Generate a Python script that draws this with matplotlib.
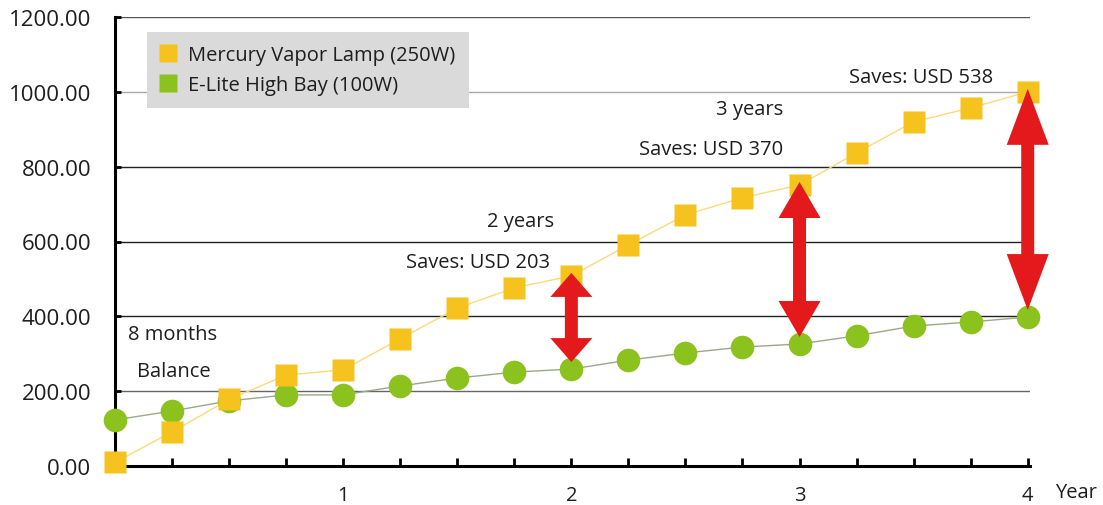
import numpy as np
import matplotlib
matplotlib.use("Agg")
import matplotlib.pyplot as plt
from matplotlib.lines import Line2D
from matplotlib.patches import Polygon
from matplotlib.transforms import blended_transform_factory, IdentityTransform

plt.rcParams["font.family"] = ["Open Sans", "DejaVu Sans"]

# data
years = [0, 0.25, 0.5, 0.75, 1.0, 1.25, 1.5, 1.75, 2.0, 2.25, 2.5, 2.75, 3.0, 3.25, 3.5, 3.75, 4.0]
mercury = [10, 91, 178, 243, 257, 340, 422, 476, 508, 591, 671, 717, 751, 837, 920, 957, 1000]
elite = [123, 147, 174, 190, 190, 214, 235, 251, 259, 283, 302, 318, 326, 348, 374, 385, 398]
series_names = ["Mercury Vapor Lamp (250W)", "E-Lite High Bay (100W)"]
yticks = [0, 200, 400, 600, 800, 1000, 1200]
xlabels = ["1", "2", "3", "4"]
arrow_years = [2.0, 3.0, 4.0]
# text, right edge x, y
notes = [("Saves: USD 203", 1.905, 545), ("2 years", 1.926, 655),
         ("Saves: USD 370", 2.93, 847), ("3 years", 2.93, 954),
         ("Saves: USD 538", 3.85, 1040)]

YELLOW = "#F6C31E"
GREEN = "#8CC21E"
RED = "#E3191B"
TXT = "#1e1e1e"
FS = 14.5

fig = plt.figure(figsize=(11.03, 5.06), dpi=100)
ax = fig.add_axes([115/1103, 1-467/506, 915/1103, 449/506])
ax.set_xlim(0, 4.01)
ax.set_ylim(0, 1200)

grid_cols = {200: "#666666", 400: "#222222", 600: "#222222", 800: "#222222", 1000: "#aaaaaa", 1200: "#555555"}
for v, c in grid_cols.items():
    ax.axhline(v, color=c, lw=1.0, zorder=1)

ax.plot(years, mercury, color="#F8DB7A", lw=1.0, zorder=3)
ax.plot(years, elite, color="#9aa88a", lw=1.0, zorder=3)
ax.plot(years, mercury, ls="none", marker="s", ms=16, color=YELLOW, mec="none", zorder=5, clip_on=False)
ax.plot(years, elite, ls="none", marker="o", ms=17, color=GREEN, mec="none", zorder=4, clip_on=False)

# red double arrows between the two lines (shape in pixels, ends from data)
head_len = {2.0: 24, 3.0: 36, 4.0: 56}
HW, SW = 21, 6.5   # half widths (px)
for yr in arrow_years:
    i = years.index(yr)
    xp, ytop = ax.transData.transform((yr, mercury[i]))
    _, ybot = ax.transData.transform((yr, elite[i]))
    ytop += 3; ybot += 7
    hl = head_len[yr]
    verts = [(xp, ytop), (xp + HW, ytop - hl), (xp + SW, ytop - hl),
             (xp + SW, ybot + hl), (xp + HW, ybot + hl), (xp, ybot),
             (xp - HW, ybot + hl), (xp - SW, ybot + hl), (xp - SW, ytop - hl),
             (xp - HW, ytop - hl)]
    fig.patches.append(Polygon(verts, closed=True, facecolor=RED, edgecolor="none",
                               transform=IdentityTransform(), figure=fig, zorder=6))

for txt, x, y in notes:
    ax.text(x, y, txt, ha="right", va="center", fontsize=FS, color=TXT, zorder=7)
ax.text(0.057, 353, "8 months", ha="left", va="center", fontsize=FS, color=TXT)
ax.text(0.096, 254, "Balance", ha="left", va="center", fontsize=FS, color=TXT)

for s in ("top", "right"):
    ax.spines[s].set_visible(False)
for s in ("left", "bottom"):
    ax.spines[s].set_linewidth(2.2)
    ax.spines[s].set_color("black")
    ax.spines[s].set_zorder(2)

ax.set_yticks(yticks)
ax.set_yticklabels([f"{v:.2f}" for v in yticks], fontsize=16, color=TXT)
qt = np.arange(0.25, 4.01, 0.25)
ax.set_xticks(qt)
ax.set_xticklabels([xlabels[int(t)-1] if t == int(t) else "" for t in qt], fontsize=FS, color=TXT)
ax.tick_params(axis="x", direction="in", length=6, width=2, pad=14)
ax.tick_params(axis="y", direction="in", length=4, width=2, pad=17)
trans = blended_transform_factory(ax.transAxes, ax.transAxes)
ax.text(1.027, -0.058, "Year", transform=trans, ha="left", va="center", fontsize=FS, color=TXT)

handles = [Line2D([], [], ls="none", marker="s", ms=13, color=YELLOW, mec="none"),
           Line2D([], [], ls="none", marker="s", ms=13, color=GREEN, mec="none")]
leg = ax.legend(handles, series_names, loc="upper left", bbox_to_anchor=(0.035, 0.967),
                borderaxespad=0, fancybox=False, framealpha=1, fontsize=FS,
                handlelength=0.8, handletextpad=0.6, labelspacing=0.5, borderpad=0.65)
leg.get_frame().set_facecolor("#dadada")
leg.get_frame().set_edgecolor("none")
leg.set_zorder(8)
for t in leg.get_texts():
    t.set_color(TXT)

fig.savefig("out.png", dpi=100)
